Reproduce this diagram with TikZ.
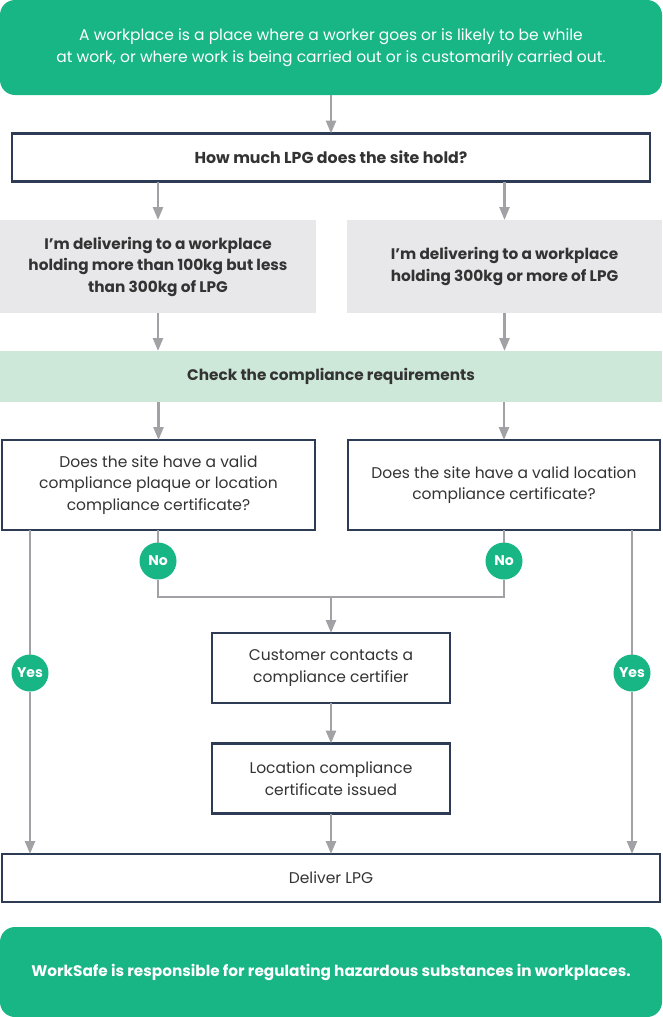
\documentclass[tikz,border=0pt]{standalone}
\usepackage{fontspec}
\setmainfont{Poppins}
\usetikzlibrary{arrows.meta}
\definecolor{wsgreen}{HTML}{18B585}
\definecolor{wsgray}{HTML}{E8E8EA}
\definecolor{wslight}{HTML}{CDE7D8}
\definecolor{wsnavy}{HTML}{2D3B55}
\definecolor{wsline}{HTML}{A2A2A6}
\definecolor{wstext}{HTML}{333333}
\tikzset{
  base/.style={rectangle, inner sep=0pt, outer sep=0pt, align=center, text=wstext, font=\fontsize{15.5}{21.5}\selectfont},
  greenbox/.style={base, fill=wsgreen, rounded corners=15pt, text=white},
  navybox/.style={base, draw=wsnavy, line width=2.5pt, fill=white},
  graybox/.style={base, fill=wsgray, font=\fontsize{15.3}{21.5}\selectfont\bfseries},
  lightbox/.style={base, fill=wslight, font=\fontsize{15.3}{21.5}\selectfont\bfseries},
  badge/.style={circle, fill=wsgreen, text=white, inner sep=0pt, outer sep=0pt, minimum size=37pt, font=\fontsize{14}{14}\selectfont\bfseries},
  conn/.style={draw=wsline, line width=2.5pt},
  arr/.style={conn, -{Triangle[width=10pt,length=13pt]}},
}
\begin{document}
\begin{tikzpicture}[x=1pt,y=-1pt]
\useasboundingbox (0,0) rectangle (662,1017);
\node[greenbox, minimum width=662, minimum height=95] (top) at (331,47.5)
  {A workplace is a place where a worker goes or is likely to be while\\at work, or where work is being carried out or is customarily carried out.};
\node[navybox, minimum width=638, minimum height=48, font=\fontsize{15.8}{21.5}\selectfont\bfseries] (q) at (331,157.5) {How much LPG does the site hold?};
\node[graybox, minimum width=316, minimum height=93] (g1) at (158,266.5)
  {I’m delivering to a workplace\\holding more than 100kg but less\\than 300kg of LPG};
\node[graybox, minimum width=315, minimum height=93] (g2) at (504.5,266.5)
  {I’m delivering to a workplace\\holding 300kg or more of LPG};
\node[lightbox, minimum width=662, minimum height=51] (chk) at (331,376.5) {Check the compliance requirements};
\node[navybox, minimum width=313, minimum height=90] (d1) at (158.5,485) 
  {Does the site have a valid\\compliance plaque or location\\compliance certificate?};
\node[navybox, minimum width=312, minimum height=90] (d2) at (504,485)
  {Does the site have a valid location\\compliance certificate?};
\node[badge] (no1) at (158,561) {No};
\node[badge] (no2) at (504,561) {No};
\coordinate (j) at (331,597);
\node[navybox, minimum width=238, minimum height=70] (c1) at (331,668) {Customer contacts a\\compliance certifier};
\node[navybox, minimum width=238, minimum height=70] (c2) at (331,778.5) {Location compliance\\certificate issued};
\node[navybox, minimum width=658, minimum height=48] (dl) at (331,878) {Deliver LPG};
\node[badge] (y1) at (30,673) {Yes};
\node[badge] (y2) at (632,673) {Yes};
\node[greenbox, minimum width=662, minimum height=90, font=\fontsize{15.3}{21.5}\selectfont\bfseries] (bot) at (331,972) {WorkSafe is responsible for regulating hazardous substances in workplaces.};
% connectors
\draw[arr] (top) -- (q);
\draw[arr] (q.south -| g1) -- (g1);
\draw[arr] (q.south -| g2) -- (g2);
\draw[arr] (g1) -- (g1 |- chk.north);
\draw[arr] (g2) -- (g2 |- chk.north);
\draw[arr] (chk.south -| d1) -- (d1);
\draw[arr] (chk.south -| d2) -- (d2);
\draw[conn] (d1.south -| no1) -- (no1);
\draw[conn] (d2.south -| no2) -- (no2);
\draw[conn] (no1) |- (j) -| (no2);
\draw[arr] (j) -- (c1);
\draw[arr] (c1) -- (c2);
\draw[arr] (c2) -- (dl);
\draw[conn] (d1.south -| y1) -- (y1);
\draw[arr] (y1) -- (y1 |- dl.north);
\draw[conn] (d2.south -| y2) -- (y2);
\draw[arr] (y2) -- (y2 |- dl.north);
\end{tikzpicture}
\end{document}
